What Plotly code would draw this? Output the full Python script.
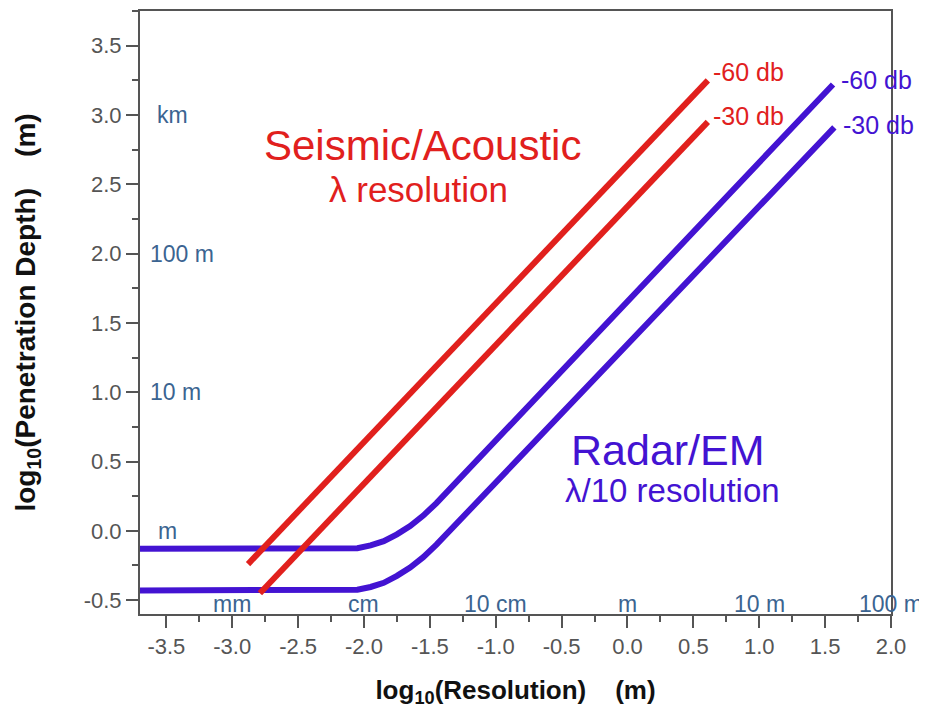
import plotly.graph_objects as go

# ---- data ----
seis_60_x = [-2.88, 0.61]
seis_60_y = [-0.24, 3.25]
seis_30_x = [-2.79, 0.61]
seis_30_y = [-0.45, 2.95]

radar_60_x = [-3.7, -2.05, -1.95, -1.85, -1.75, -1.65, -1.55, -1.45, 1.56]
radar_60_y = [-0.13, -0.125, -0.105, -0.075, -0.025, 0.035, 0.11, 0.2, 3.22]
radar_30_x = [-3.7, -2.05, -1.95, -1.85, -1.75, -1.65, -1.55, -1.45, 1.57]
radar_30_y = [-0.43, -0.425, -0.405, -0.375, -0.325, -0.265, -0.19, -0.1, 2.91]

x_tick_vals = [-3.5, -3.0, -2.5, -2.0, -1.5, -1.0, -0.5, 0.0, 0.5, 1.0, 1.5, 2.0]
x_tick_text = ["-3.5", "-3.0", "-2.5", "-2.0", "-1.5", "-1.0", "-0.5", "0.0", "0.5", "1.0", "1.5", "2.0"]
y_tick_vals = [-0.5, 0.0, 0.5, 1.0, 1.5, 2.0, 2.5, 3.0, 3.5]
y_tick_text = ["-0.5", "0.0", "0.5", "1.0", "1.5", "2.0", "2.5", "3.0", "3.5"]

x_unit_pos = [-3, -2, -1, 0, 1, 2]
x_unit_labels = ["mm", "cm", "10 cm", "m", "10 m", "100 m"]
y_unit_pos = [3.0, 2.0, 1.0, 0.0]
y_unit_labels = ["km", "100 m", "10 m", "m"]
y_unit_x = [-3.585, -3.64, -3.64, -3.575]

RED = "#e1201d"
BLUE = "#4313d2"
UNIT = "#3b6491"
GREY = "#555555"
FONT = "Liberation Sans, Arial, sans-serif"

fig = go.Figure()
for xs, ys, c in [(radar_60_x, radar_60_y, BLUE), (radar_30_x, radar_30_y, BLUE),
                  (seis_60_x, seis_60_y, RED), (seis_30_x, seis_30_y, RED)]:
    fig.add_trace(go.Scatter(x=xs, y=ys, mode="lines",
                             line=dict(color=c, width=6, shape="linear"),
                             showlegend=False, hoverinfo="skip"))

ann = []
for p, t in zip(x_unit_pos, x_unit_labels):
    ann.append(dict(x=p, y=-0.53, text=t, showarrow=False, xanchor="center",
                    yanchor="middle", font=dict(size=23, color=UNIT, family=FONT)))
for p, t, xx in zip(y_unit_pos, y_unit_labels, y_unit_x):
    ann.append(dict(x=xx, y=p, text=t, showarrow=False, xanchor="left",
                    yanchor="middle", font=dict(size=23, color=UNIT, family=FONT)))

ann += [
    dict(x=-1.558, y=2.78, text="Seismic/Acoustic", showarrow=False, xanchor="center",
         yanchor="middle", font=dict(size=42, color=RED, family=FONT)),
    dict(x=-1.585, y=2.46, text="λ resolution", showarrow=False, xanchor="center",
         yanchor="middle", font=dict(size=35, color=RED, family=FONT)),
    dict(x=0.307, y=0.58, text="Radar/EM", showarrow=False, xanchor="center",
         yanchor="middle", font=dict(size=43, color=BLUE, family=FONT)),
    dict(x=0.345, y=0.29, text="λ/10 resolution", showarrow=False, xanchor="center",
         yanchor="middle", font=dict(size=33, color=BLUE, family=FONT)),
    dict(x=0.634, y=3.31, text="-60 db", showarrow=False, xanchor="left",
         yanchor="middle", font=dict(size=25, color=RED, family=FONT)),
    dict(x=0.634, y=2.99, text="-30 db", showarrow=False, xanchor="left",
         yanchor="middle", font=dict(size=25, color=RED, family=FONT)),
    dict(x=1.606, y=3.25, text="-60 db", showarrow=False, xanchor="left",
         yanchor="middle", font=dict(size=25, color=BLUE, family=FONT)),
    dict(x=1.62, y=2.93, text="-30 db", showarrow=False, xanchor="left",
         yanchor="middle", font=dict(size=25, color=BLUE, family=FONT)),
]

axis_common = dict(showline=True, linecolor="#555555", linewidth=2, mirror=True,
                   ticks="outside", ticklen=12, tickwidth=2, tickcolor="#555555",
                   showgrid=False, zeroline=False, tickmode="array",
                   tickfont=dict(size=22, color=GREY, family=FONT),
                   minor=dict(ticks="outside", ticklen=6, tickwidth=2,
                              tickcolor="#555555", tickmode="linear", tick0=0, dtick=0.25))

SP = "\u00a0" * 4
fig.update_layout(
    width=919, height=700,
    margin=dict(l=132, r=36, t=1, b=94),
    paper_bgcolor="white", plot_bgcolor="white",
    xaxis=dict(range=[-3.7, 2.0], tickvals=x_tick_vals, ticktext=x_tick_text, **axis_common,
               title=dict(text="<b>log<sub>10</sub>(Resolution)" + SP + "(m)</b>",
                          font=dict(size=26, color="#111111", family=FONT),
                          standoff=23)),
    yaxis=dict(range=[-0.6, 3.75], tickvals=y_tick_vals, ticktext=y_tick_text, **axis_common,
               title=dict(text="<b>log<sub>10</sub>(Penetration Depth)" + SP + "(m)</b>",
                          font=dict(size=28, color="#111111", family=FONT),
                          standoff=40)),
    annotations=ann,
    font=dict(family=FONT),
)
fig.write_html("out.html")
